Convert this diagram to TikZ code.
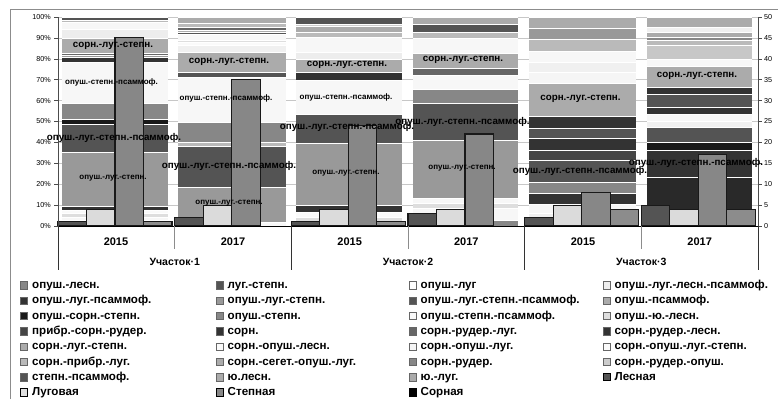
\documentclass[tikz,border=0pt]{standalone}
\usepackage{fontspec}
\setmainfont{Liberation Sans}
\newcommand\stackbar[3]{%
  \foreach \a/\b/\c in {#3}{\fill[black!\c] (#1,\a) rectangle (#2,\b);}%
  \foreach \a/\b/\c in {#3}{\draw[white,line width=0.4pt] (#1,\a) -- (#2,\a);}%
}
\begin{document}
\begin{tikzpicture}[x=1pt,y=-1pt,
  cbar/.style={draw=black!90,line width=1.1pt},
  lbl/.style={font=\bfseries\fontsize{9.8}{10}\selectfont,inner sep=0pt},
  slbl/.style={font=\bfseries\fontsize{8}{9}\selectfont,inner sep=0pt},
  leg/.style={font=\bfseries\fontsize{11.6}{12}\selectfont,anchor=base west,inner sep=0pt},
  tickl/.style={font=\fontsize{7.2}{8}\selectfont,inner sep=0pt},
  catl/.style={font=\bfseries\fontsize{11}{12}\selectfont,inner sep=0pt},
  mk/.style={draw=black!60,line width=0.5pt},
  smk/.style={draw=black,line width=1pt}]
\useasboundingbox (0,0) rectangle (778,399);
\fill[white] (0,0) rectangle (778,399);
% outer frame (cropped)
\draw[black!45,line width=0.8pt] (10,399) -- (10,9) -- (778,9);
% gridlines
\foreach \k in {0,...,10}{\draw[black!22,line width=0.5pt] (58,{226-20.9*\k}) -- (758,{226-20.9*\k});}
% stacked bars
\stackbar{62}{168}{17.3/20/67,20/21.7/27,21.7/29.3/3,29.3/37.7/7,37.7/53.3/33,53.3/55/60,55/57.3/40,57.3/61.7/80,61.7/103.3/3,103.3/119/47,119/124/90,124/152.3/67,152.3/206/40,206/210/80,210/213.3/2,213.3/216.7/13,216.7/220/3,220/222.3/73,222.3/226/47}
\stackbar{178}{286}{17.3/22.7/33,22.7/26.7/27,26.7/30/60,30/32.3/33,32.3/34.3/67,34.3/40/3,40/42.3/13,42.3/45/2,45/51.7/6,51.7/71.7/33,71.7/76.7/67,76.7/121.7/3,121.7/141.7/47,141.7/145.7/27,145.7/186.7/67,186.7/221.7/40,221.7/226/3}
\stackbar{296}{402}{17.3/24/67,24/26/20,26/31.7/33,31.7/37.3/27,37.3/52.3/3,52.3/59.3/7,59.3/71.7/33,71.7/80/80,80/114/3,114/142.7/67,142.7/205/40,205/211.7/80,211.7/216.7/2,216.7/221.7/13,221.7/226/47}
\stackbar{413}{518}{17.3/24/33,24/31.7/67,31.7/37.7/27,37.7/52.7/3,52.7/68.3/33,68.3/75/60,75/89.3/3,89.3/103.3/47,103.3/140/67,140/198.3/40,198.3/203.3/3,203.3/208.3/13,208.3/220/3,220/226/47}
\stackbar{529}{636}{17.3/28.3/33,28.3/39.3/40,39.3/50.7/27,50.7/61.7/3,61.7/71.7/6,71.7/83.3/4,83.3/116/33,116/127.7/80,127.7/138.3/67,138.3/150/80,150/160/73,160/181.7/67,181.7/193.3/47,193.3/204/80,204/213.3/3,213.3/220/6,220/226/47}
\stackbar{647}{752}{17.3/26.7/33,26.7/31.7/6,31.7/37.3/33,37.3/40/47,40/45/27,45/59.3/22,59.3/66/3,66/87.3/33,87.3/94/80,94/107.3/67,107.3/114/80,114/120.7/3,120.7/127.3/6,127.3/141.7/67,141.7/150/90,150/177/80,177/226/84}
% clustered bars (right axis, 1 unit = 4.18)
\foreach \g/\va/\vb/\vc/\vd in {0/1/4/45/1,1/2/5/35/0,2/1/4/24/1,3/3/4/22/0,4/2/5/8/4,5/5/4/17/4}{
  \pgfmathsetmacro\gs{58+116.67*\g}
  \ifdim \va pt>0pt \draw[cbar,fill=black!67] (\gs,226) rectangle ({\gs+28.5},{226-4.18*\va}); \fi
  \ifdim \vb pt>0pt \draw[cbar,fill=black!14] ({\gs+28.5},226) rectangle ({\gs+57},{226-4.18*\vb}); \fi
  \ifdim \vc pt>0pt \draw[cbar,fill=black!47] ({\gs+57},226) rectangle ({\gs+85.5},{226-4.18*\vc}); \fi
  \ifdim \vd pt>0pt \draw[cbar,fill=black!45] ({\gs+85.5},226) rectangle ({\gs+114},{226-4.18*\vd}); \fi
}
% axes
\draw[black!70,line width=0.6pt] (58,17) -- (58,226);
\foreach \k in {0,...,10}{\draw[black!70,line width=0.6pt] (54,{226-20.9*\k}) -- (58,{226-20.9*\k});}
\draw[black!70,line width=0.6pt] (758,17) -- (758,226);
\foreach \k in {0,...,10}{\draw[black!70,line width=0.6pt] (758,{226-20.9*\k}) -- (762,{226-20.9*\k});}
\foreach \k [evaluate=\k as \p using int(10*\k)] in {0,...,10}{\node[tickl,anchor=east] (yl\k) at (51,{226-20.9*\k}) {\p\%};}
\foreach \k [evaluate=\k as \p using int(5*\k)] in {0,...,10}{\node[tickl,anchor=west] (yr\k) at (764,{226-20.9*\k}) {\p};}
% category axis
\draw[black,line width=0.8pt] (58,226) -- (758,226);
\foreach \x in {58,291.3,524.7,758}{\draw[black!80,line width=0.7pt] (\x,226) -- (\x,270);}
\foreach \x in {174.7,408,641.3}{\draw[black!45,line width=0.7pt] (\x,226) -- (\x,249);}
\foreach \i/\x/\t in {1/116/2015,2/233/2017,3/349.7/2015,4/466.3/2017,5/583/2015,6/699.7/2017}{\node[catl] (yr-\i) at (\x,242) {\t};}
\node[catl,font=\bfseries\fontsize{10.5}{12}\selectfont] (u1) at (174.7,261.5) {Участок·1};
\node[catl,font=\bfseries\fontsize{10.5}{12}\selectfont] (u2) at (408,261.5) {Участок·2};
\node[catl,font=\bfseries\fontsize{10.5}{12}\selectfont] (u3) at (641.3,261.5) {Участок·3};
% labels in bars
\node[lbl] (a1) at (113,46) {сорн.-луг.-степн.};
\node[slbl] (a2) at (111.5,82) {опуш.-степн.-псаммоф.};
\node[lbl] (a3) at (114,138) {опуш.-луг.-степн.-псаммоф.};
\node[slbl] (a4) at (113,178) {опуш.-луг.-степн.};
\node[lbl] (b1) at (229,62) {сорн.-луг.-степн.};
\node[slbl] (b2) at (226,98) {опуш.-степн.-псаммоф.};
\node[lbl] (b3) at (229,166) {опуш.-луг.-степн.-псаммоф.};
\node[slbl] (b4) at (229,203) {опуш.-луг.-степн.};
\node[lbl] (c1) at (347,65) {сорн.-луг.-степн.};
\node[slbl] (c2) at (346,97) {опуш.-степн.-псаммоф.};
\node[lbl] (c3) at (347,127) {опуш.-луг.-степн.-псаммоф.};
\node[slbl] (c4) at (346,173) {опуш.-луг.-степн.};
\node[lbl] (d1) at (463,60) {сорн.-луг.-степн.};
\node[lbl] (d3) at (462.5,122) {опуш.-луг.-степн.-псаммоф.};
\node[slbl] (d4) at (462,168) {опуш.-луг.-степн.};
\node[lbl] (e1) at (580.5,99) {сорн.-луг.-степн.};
\node[lbl] (e3) at (580,171) {опуш.-луг.-степн.-псаммоф.};
\node[lbl] (f1) at (697,76) {сорн.-луг.-степн.};
\node[lbl] (f3) at (696,163) {опуш.-луг.-степн.-псаммоф.};
% legend
\foreach \r/\c/\col/\t in {
 0/0/47/опуш.-лесн., 0/1/67/луг.-степн., 0/2/0/опуш.-луг, 0/3/7/опуш.-луг.-лесн.-псаммоф.,
 1/0/80/опуш.-луг.-псаммоф., 1/1/40/опуш.-луг.-степн., 1/2/67/опуш.-луг.-степн.-псаммоф., 1/3/33/опуш.-псаммоф.,
 2/0/90/опуш.-сорн.-степн., 2/1/47/опуш.-степн., 2/2/2/опуш.-степн.-псаммоф., 2/3/13/опуш.-ю.-лесн.,
 3/0/73/прибр.-сорн.-рудер., 3/1/80/сорн., 3/2/60/сорн.-рудер.-луг., 3/3/80/сорн.-рудер.-лесн.,
 4/0/33/сорн.-луг.-степн., 4/1/2/сорн.-опуш.-лесн., 4/2/4/сорн.-опуш.-луг., 4/3/2/сорн.-опуш.-луг.-степн.,
 5/0/27/сорн.-прибр.-луг., 5/1/33/сорн.-сегет.-опуш.-луг., 5/2/47/сорн.-рудер., 5/3/20/сорн.-рудер.-опуш.,
 6/0/67/степн.-псаммоф., 6/1/33/ю.лесн., 6/2/33/ю.-луг.}{
  \pgfmathsetmacro\lx{{20.5,216,409,603}[\c]}
  \pgfmathsetmacro\ly{285.2+15.33*\r}
  \draw[mk,fill=black!\col] (\lx,\ly-3.6) rectangle (\lx+7.2,\ly+3.6);
  \node[leg] (l\r-\c) at (\lx+11.5,\ly+3.2) {\t};
}
\foreach \r/\c/\col/\t in {6/3/67/Лесная, 7/0/13/Луговая, 7/1/47/Степная, 7/2/100/Сорная}{
  \pgfmathsetmacro\lx{{20.5,216,409,603}[\c]}
  \pgfmathsetmacro\ly{285.2+15.33*\r}
  \draw[smk,fill=black!\col] (\lx,\ly-3.6) rectangle (\lx+7.2,\ly+3.6);
  \node[leg] (s\r-\c) at (\lx+11.5,\ly+3.2) {\t};
}
\end{tikzpicture}
\end{document}
